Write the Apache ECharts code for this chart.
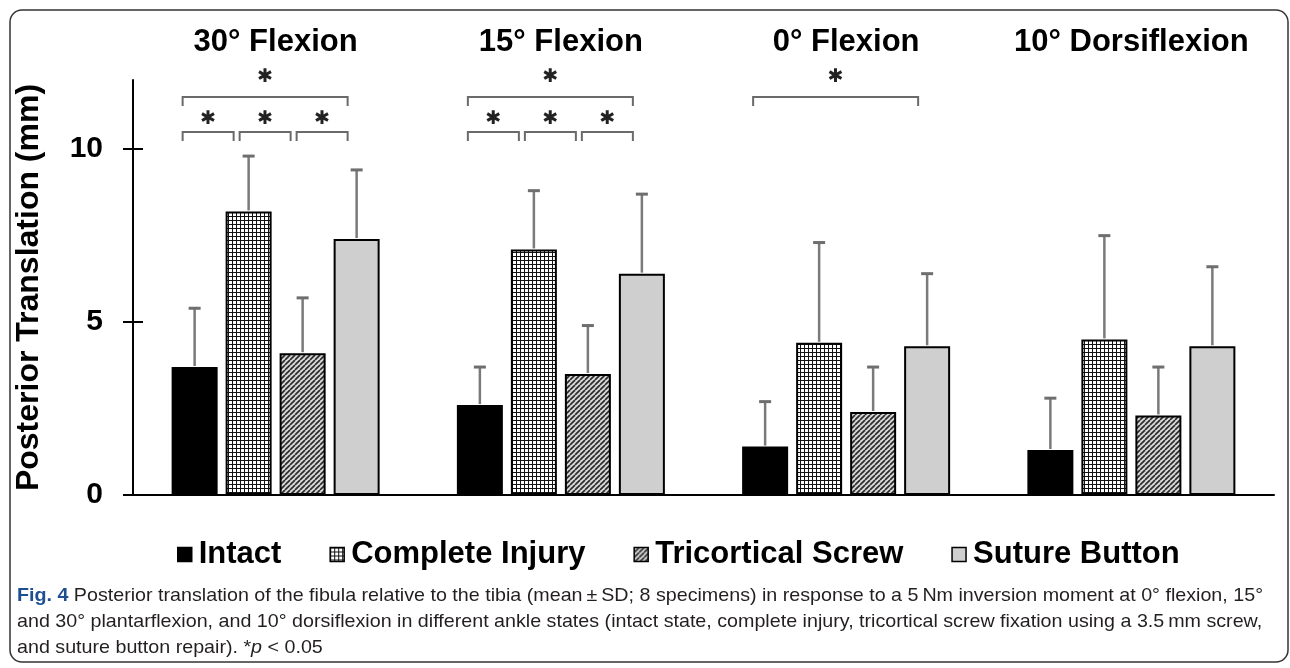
<!DOCTYPE html>
<html><head><meta charset="utf-8">
<script src="https://cdn.jsdelivr.net/npm/echarts@6/dist/echarts.min.js"></script>
<style>html,body{margin:0;padding:0;background:#fff;}#c{width:1290px;height:668px;}</style>
</head><body><div id="c"></div>
<script>
const categories = ['30° Flexion', '15° Flexion', '0° Flexion', '10° Dorsiflexion'];
const seriesNames = ['Intact', 'Complete Injury', 'Tricortical Screw', 'Suture Button'];
const intactMean = [3.7, 2.6, 1.4, 1.3];
const intactSD = [1.7, 1.1, 1.3, 1.5];
const completeMean = [8.2, 7.1, 4.4, 4.5];
const completeSD = [1.6, 1.7, 2.9, 3.0];
const screwMean = [4.1, 3.5, 2.4, 2.3];
const screwSD = [1.6, 1.4, 1.3, 1.4];
const sutureMean = [7.4, 6.4, 4.3, 4.3];
const sutureSD = [2.0, 2.3, 2.1, 2.3];
const yTicks = [0, 5, 10];
// significance brackets: [categoryIndex, fromBar, toBar, level]
const sigBrackets = [[0,0,1,0],[0,1,2,0],[0,2,3,0],[0,0,3,1],[1,0,1,0],[1,1,2,0],[1,2,3,0],[1,0,3,1],[2,0,3,1]];
const captionLabel = 'Fig. 4';
const captionLines = [
  'Posterior translation of the fibula relative to the tibia (mean\u2009±\u2009SD; 8 specimens) in response to a 5\u2009Nm inversion moment at 0° flexion, 15°',
  'and 30° plantarflexion, and 10° dorsiflexion in different ankle states (intact state, complete injury, tricortical screw fixation using a 3.5\u2009mm screw,',
  'and suture button repair). *'
];

const means = [intactMean, completeMean, screwMean, sutureMean];
const sds = [intactSD, completeSD, screwSD, sutureSD];

function gridPattern() {
  const c = document.createElement('canvas'); c.width = 4; c.height = 4;
  const g = c.getContext('2d');
  g.fillStyle = '#ffffff'; g.fillRect(0, 0, 4, 4);
  g.fillStyle = '#111111'; g.fillRect(0, 0, 4, 1); g.fillRect(0, 0, 1, 4);
  return c;
}
function hatchPattern() {
  const s = 5;
  const c = document.createElement('canvas'); c.width = s; c.height = s;
  const g = c.getContext('2d');
  g.fillStyle = '#d9d9d9'; g.fillRect(0, 0, s, s);
  g.strokeStyle = '#2a2a2a'; g.lineWidth = 1.7;
  for (let k = -1; k <= 1; k++) { g.beginPath(); g.moveTo(k * s, s); g.lineTo(k * s + s, 0); g.stroke(); }
  return c;
}
const fills = ['#000000', { image: gridPattern(), repeat: 'repeat' }, { image: hatchPattern(), repeat: 'repeat' }, '#cfcfcf'];

const BAR_W = 46, BAR_GAP = 8;
const FONT = "'Liberation Sans', Arial, Helvetica, sans-serif";
const CAP_FONT_FAMILY = "'Liberation Sans', Arial, sans-serif";
const CAP_SIZE = 19;

// horizontal condensing factor so that caption line 1 spans the reference width
const mctx = document.createElement('canvas').getContext('2d');
mctx.font = 'bold ' + CAP_SIZE + 'px ' + CAP_FONT_FAMILY;
const wLabel = mctx.measureText(captionLabel + ' ').width;
mctx.font = CAP_SIZE + 'px ' + CAP_FONT_FAMILY;
const wLine1 = wLabel + mctx.measureText(captionLines[0]).width;
const capScale = 1246 / wLine1;

const chart = echarts.init(document.getElementById('c'), null, { renderer: 'canvas' });

const barSeries = seriesNames.map((name, i) => ({
  name, type: 'bar', data: means[i], barWidth: BAR_W, barGap: (BAR_GAP / BAR_W * 100) + '%',
  itemStyle: { color: fills[i], borderColor: '#000', borderWidth: 2 },
  z: 2, silent: true
}));

const errData = [];
means.forEach((arr, s) => arr.forEach((m, c) => errData.push([c, m, sds[s][c], s])));

const errSeries = {
  type: 'custom', name: 'err', data: errData, encode: { x: 0, y: 1 }, z: 3, clip: false, silent: true,
  renderItem(params, api) {
    const c = api.value(0), m = api.value(1), sd = api.value(2), s = api.value(3);
    const base = api.coord([c, m]), top = api.coord([c, m + sd]);
    const x = base[0] + (s - 1.5) * (BAR_W + BAR_GAP);
    return { type: 'group', children: [
      { type: 'line', shape: { x1: x, y1: base[1] - 1, x2: x, y2: top[1] }, style: { stroke: '#7a7a7a', lineWidth: 2.5 } },
      { type: 'line', shape: { x1: x - 6, y1: top[1], x2: x + 6, y2: top[1] }, style: { stroke: '#6e6e6e', lineWidth: 3 } }
    ] };
  }
};

const bracketSeries = {
  type: 'custom', name: 'sig', data: sigBrackets, encode: { x: 0, y: 3 }, z: 4, clip: false, silent: true,
  renderItem(params, api) {
    const cat = api.value(0), from = api.value(1), to = api.value(2), lvl = api.value(3);
    const cx = api.coord([cat, 0])[0];
    const bc = k => cx + (k - 1.5) * (BAR_W + BAR_GAP);
    const left = bc(from) - 12 + 3 * from;
    const right = bc(to) - 9 - 3 * (3 - to);
    const y = lvl ? 97 : 132;
    return { type: 'group', children: [
      { type: 'polyline', shape: { points: [[left, y + 9], [left, y], [right, y], [right, y + 9]] },
        style: { stroke: '#6a6a6a', lineWidth: 2, fill: null } },
      { type: 'text', x: (left + right) / 2, y: y - (lvl ? 20 : 13),
        style: { text: '\u2731', fontSize: 19, fontFamily: 'DejaVu Sans', fill: '#222', align: 'center', verticalAlign: 'middle' } }
    ] };
  }
};

const capStyle = { fontSize: CAP_SIZE, fontFamily: CAP_FONT_FAMILY, fill: '#231f20' };

const option = {
  backgroundColor: '#ffffff',
  animation: false,
  grid: { left: 133, right: 16, top: 80, bottom: 173, containLabel: false },
  legend: {
    data: seriesNames, left: 172, top: 534, itemWidth: 14, itemHeight: 14, itemGap: 48, icon: 'rect',
    itemStyle: { borderWidth: 1.5 },
    textStyle: { fontSize: 31, fontWeight: 'bold', fontFamily: FONT, color: '#000', padding: [0, 0, 0, 2] },
    selectedMode: false
  },
  xAxis: [
    { type: 'category', data: categories, position: 'bottom',
      axisLine: { show: true, lineStyle: { color: '#000', width: 2 } },
      axisTick: { show: false }, axisLabel: { show: false }, splitLine: { show: false } },
    { type: 'category', data: categories, position: 'top',
      axisLine: { show: false }, axisTick: { show: false }, splitLine: { show: false },
      axisLabel: { interval: 0, fontSize: 31, fontWeight: 'bold', fontFamily: FONT, color: '#000', margin: 22 } }
  ],
  yAxis: [
    { type: 'value', min: 0, max: 12, interval: 5,
      name: 'Posterior Translation (mm)', nameLocation: 'middle', nameGap: 88,
      nameTextStyle: { fontSize: 32, fontWeight: 'bold', fontFamily: FONT, color: '#000' },
      axisLine: { show: true, lineStyle: { color: '#000', width: 2 } },
      axisTick: { show: true, inside: false, length: 10, customValues: yTicks, lineStyle: { color: '#000', width: 2 } },
      axisLabel: { customValues: yTicks, fontSize: 30, fontWeight: 'bold', fontFamily: FONT, color: '#000', margin: 30 },
      splitLine: { show: false } },
    { type: 'value', min: 0, max: 12, interval: 5, position: 'left',
      axisLine: { show: false },
      axisTick: { show: true, inside: true, length: 10, customValues: yTicks, lineStyle: { color: '#000', width: 2 } },
      axisLabel: { show: false }, splitLine: { show: false } }
  ],
  series: [...barSeries, errSeries, bracketSeries],
  graphic: [
    { type: 'rect', shape: { x: 10, y: 10, width: 1278, height: 652, r: 12 }, style: { fill: null, stroke: '#333', lineWidth: 1.5 }, silent: true },
    { type: 'group', x: 17, y: 0, scaleX: capScale, children: [
      { type: 'text', x: 0, y: 586, style: Object.assign({
          text: '{b|' + captionLabel + '} ' + captionLines[0],
          rich: { b: { fontWeight: 'bold', fill: '#1d4f91', fontSize: CAP_SIZE, fontFamily: CAP_FONT_FAMILY } } }, capStyle) },
      { type: 'text', x: 0, y: 612, style: Object.assign({ text: captionLines[1] }, capStyle) },
      { type: 'text', x: 0, y: 638, style: Object.assign({
          text: captionLines[2] + '{i|p} < 0.05',
          rich: { i: { fontStyle: 'italic', fontSize: CAP_SIZE, fontFamily: CAP_FONT_FAMILY } } }, capStyle) }
    ] }
  ]
};
chart.setOption(option);
</script></body></html>
